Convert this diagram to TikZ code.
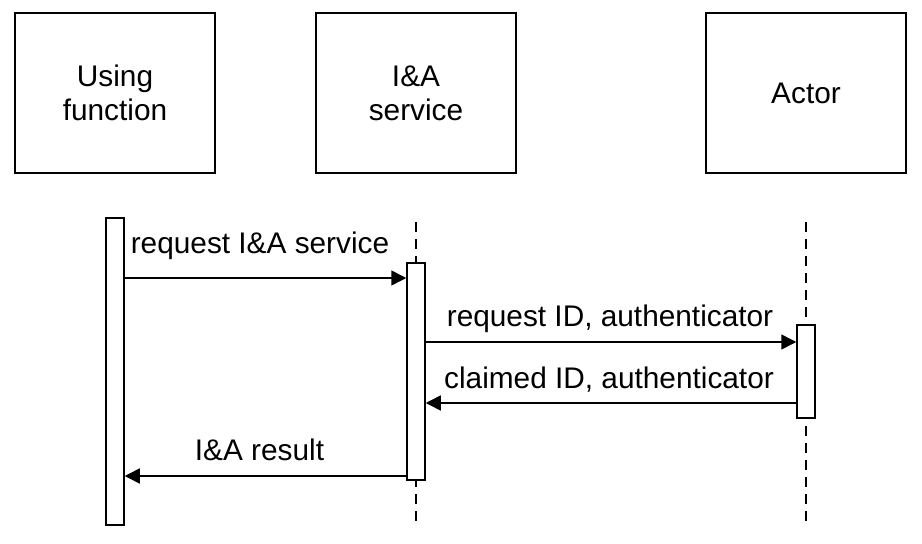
\documentclass[tikz,border=0pt]{standalone}
\usepackage{fontspec}
\setmainfont{Liberation Sans}
\usetikzlibrary{arrows.meta}
\begin{document}
\begin{tikzpicture}[x=1pt,y=-1pt,
  every node/.style={font=\fontsize{29.8}{34}\selectfont},
  head/.style={draw=black,line width=1.5pt,minimum width=200pt,minimum height=160pt,inner sep=0pt,align=center},
  bar/.style={draw=black,fill=white,line width=1.5pt,minimum width=18pt,inner sep=0pt},
  life/.style={line width=1.5pt,dash pattern=on 10pt off 7pt},
  msg/.style={line width=1.5pt,-{Triangle[length=15pt,width=15pt]}},
  lbl/.style={anchor=base,inner sep=0pt}]
\useasboundingbox (0,0) rectangle (922,544);
% heads
\node[head] (uf) at (115,93) {Using\\function};
\node[head] (ia) at (416,93) {I\&A\\service};
\node[head] (ac) at (806,93) {Actor};
% lifeline coordinates
\coordinate (iaTop) at (416,222);
\coordinate (iaBot) at (416,527);
\coordinate (acTop) at (806,222);
\coordinate (acBot) at (806,527);
% dashed lifelines
\draw[life] (iaTop) -- (iaBot);
\draw[life] (acTop) -- (acBot);
% activation bars
\node[bar,minimum height=307pt] (lb) at (115,371.5) {};
\node[bar,minimum height=217pt] (mb) at (416,371.5) {};
\node[bar,minimum height=93pt] (rb) at (806,371.5) {};
% messages
\draw[msg] (lb.east |- 0,278) -- node[lbl,xshift=-5.5pt,yshift=25pt] (m1) {request I\&A service} (mb.west |- 0,278);
\draw[msg] (mb.east |- 0,342) -- node[lbl,xshift=-1pt,yshift=16pt] (m2) {request ID, authenticator} (rb.west |- 0,342);
\draw[msg] (rb.west |- 0,403) -- node[lbl,xshift=-2pt,yshift=15pt] (m3) {claimed ID, authenticator} (mb.east |- 0,403);
\draw[msg] (mb.west |- 0,476) -- node[lbl,xshift=-6pt,yshift=16pt] (m4) {I\&A result} (lb.east |- 0,476);
\end{tikzpicture}
\end{document}
